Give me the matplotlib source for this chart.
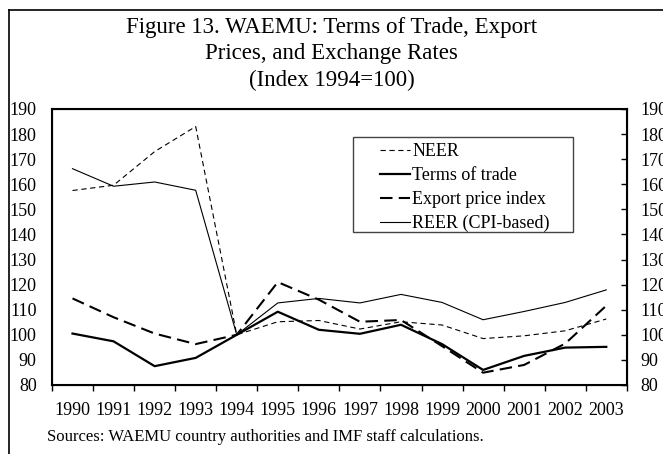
import matplotlib
matplotlib.use("Agg")
import matplotlib.pyplot as plt
from matplotlib.lines import Line2D
from matplotlib.patches import Rectangle

plt.rcParams['font.family'] = ['Liberation Serif', 'DejaVu Serif']
plt.rcParams['lines.scale_dashes'] = False

years = [str(y) for y in range(1990, 2004)]
neer = [157.5, 159.6, 173, 183, 100, 105.2, 105.7, 102.3, 105.2, 103.9, 98.5, 99.6, 101.6, 106.3]
tot = [100.5, 97.4, 87.5, 90.8, 100, 109.2, 102, 100.4, 104, 96.3, 86, 91.6, 94.9, 95.2]
export = [114.5, 107, 100.5, 96.3, 100, 121, 114, 105.2, 105.9, 95.5, 84.9, 88, 96.5, 111.6]
reer = [166.2, 159.2, 160.9, 157.6, 100, 112.7, 114.5, 112.7, 116.1, 112.9, 106, 109.3, 112.9, 117.9]
yticks = list(range(80, 191, 10))

fig = plt.figure(figsize=(6.63, 4.54), dpi=100)
ax = fig.add_axes([0.0784, 0.152, 0.867, 0.608])
x = range(len(years))

ax.plot(x, neer, color='black', lw=0.8, dashes=(3.8, 2.6), label='NEER')
ax.plot(x, tot, color='black', lw=1.6, label='Terms of trade')
ax.plot(x, export, color='black', lw=1.5, dashes=(9, 4.5), label='Export price index')
ax.plot(x, reer, color='black', lw=0.8, label='REER (CPI-based)')

ax.set_xlim(-0.5, len(years) - 0.5)
ax.set_ylim(80, 190)
ax.set_xticks(list(x))
ax.set_xticklabels(years)
ax.set_xticks([i - 0.5 for i in range(len(years) + 1)], minor=True)
ax.tick_params(axis='x', which='major', length=0, pad=12, labelsize=13)
ax.tick_params(axis='x', which='minor', length=4, width=1, direction='out')
ax.set_yticks(yticks)
ax.tick_params(axis='y', length=0, pad=11, labelsize=13)
for s in ax.spines.values():
    s.set_linewidth(1.5)

ax2 = ax.twinx()
ax2.set_ylim(80, 190)
ax2.set_yticks(yticks)
ax2.tick_params(axis='y', direction='in', length=4.3, width=1, pad=10, labelsize=13)

# legend box
ax.add_patch(Rectangle((0.523, 0.554), 0.383, 0.345, transform=ax.transAxes,
                       fill=True, facecolor='white', edgecolor='#444444', lw=1, zorder=3))
leg = ax.legend(loc='upper left', bbox_to_anchor=(0.570, 0.877), frameon=False,
                borderpad=0, borderaxespad=0, handlelength=1.67, handletextpad=0.15,
                labelspacing=0.39, fontsize=13)
leg.set_zorder(4)

fig.text(0.5, 0.962, "Figure 13. WAEMU: Terms of Trade, Export\nPrices, and Exchange Rates\n(Index 1994=100)",
         ha='center', va='top', fontsize=16.5, linespacing=1.32)
fig.text(0.071, 0.038, "Sources: WAEMU country authorities and IMF staff calculations.",
         ha='left', va='center', fontsize=12)

# figure border
fig.add_artist(Line2D([0.0136, 0.0136], [0.0, 0.978], transform=fig.transFigure, color='black', lw=1.2))
fig.add_artist(Line2D([0.0136, 1.0], [0.978, 0.978], transform=fig.transFigure, color='black', lw=1.2))

fig.savefig("out.png", dpi=100)
